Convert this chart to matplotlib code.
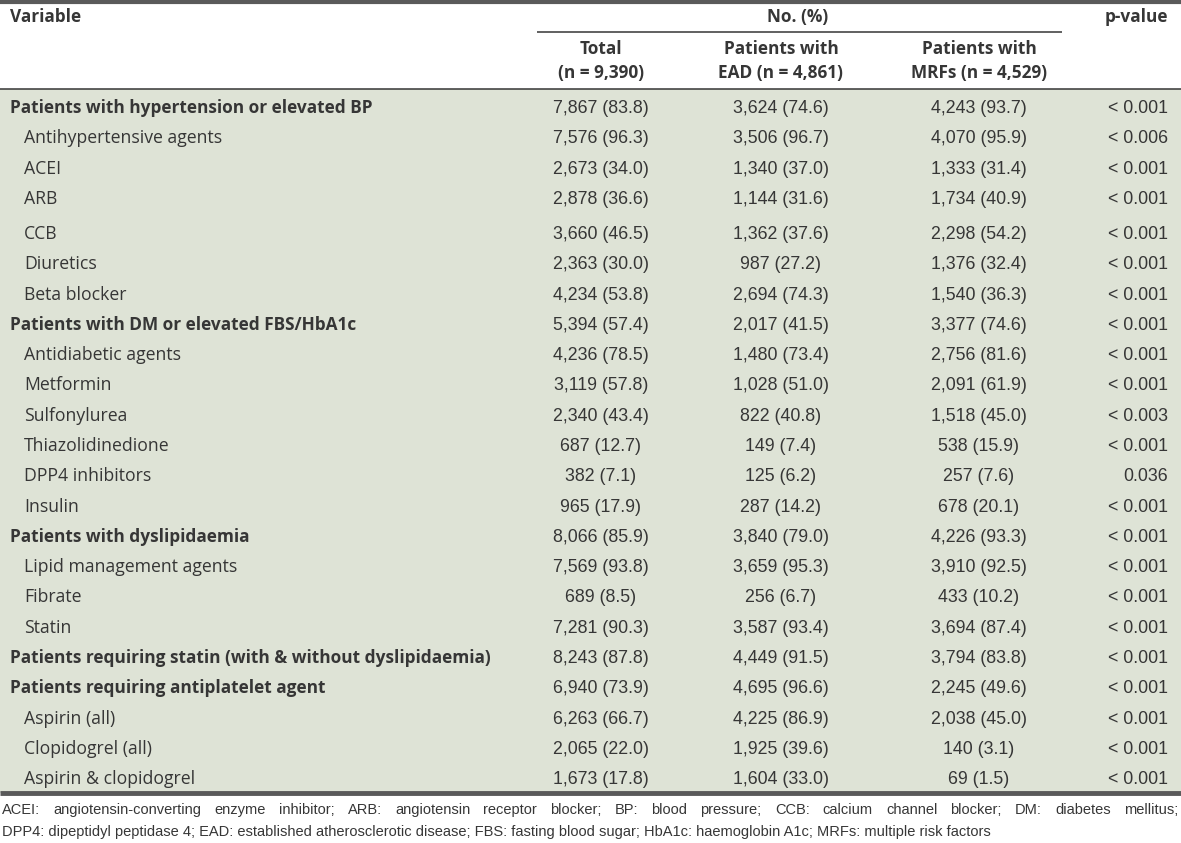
import matplotlib.pyplot as plt
from matplotlib.patches import Rectangle

# ---- table data ----
variables = [
    "Patients with hypertension or elevated BP", "Antihypertensive agents", "ACEI", "ARB",
    "CCB", "Diuretics", "Beta blocker",
    "Patients with DM or elevated FBS/HbA1c", "Antidiabetic agents", "Metformin",
    "Sulfonylurea", "Thiazolidinedione", "DPP4 inhibitors", "Insulin",
    "Patients with dyslipidaemia", "Lipid management agents", "Fibrate", "Statin",
    "Patients requiring statin (with & without dyslipidaemia)",
    "Patients requiring antiplatelet agent", "Aspirin (all)", "Clopidogrel (all)",
    "Aspirin & clopidogrel",
]
is_group = [1, 0, 0, 0, 0, 0, 0, 1, 0, 0, 0, 0, 0, 0, 1, 0, 0, 0, 1, 1, 0, 0, 0]
total = ["7,867 (83.8)", "7,576 (96.3)", "2,673 (34.0)", "2,878 (36.6)", "3,660 (46.5)",
         "2,363 (30.0)", "4,234 (53.8)", "5,394 (57.4)", "4,236 (78.5)", "3,119 (57.8)",
         "2,340 (43.4)", "687 (12.7)", "382 (7.1)", "965 (17.9)", "8,066 (85.9)",
         "7,569 (93.8)", "689 (8.5)", "7,281 (90.3)", "8,243 (87.8)", "6,940 (73.9)",
         "6,263 (66.7)", "2,065 (22.0)", "1,673 (17.8)"]
ead = ["3,624 (74.6)", "3,506 (96.7)", "1,340 (37.0)", "1,144 (31.6)", "1,362 (37.6)",
       "987 (27.2)", "2,694 (74.3)", "2,017 (41.5)", "1,480 (73.4)", "1,028 (51.0)",
       "822 (40.8)", "149 (7.4)", "125 (6.2)", "287 (14.2)", "3,840 (79.0)",
       "3,659 (95.3)", "256 (6.7)", "3,587 (93.4)", "4,449 (91.5)", "4,695 (96.6)",
       "4,225 (86.9)", "1,925 (39.6)", "1,604 (33.0)"]
mrf = ["4,243 (93.7)", "4,070 (95.9)", "1,333 (31.4)", "1,734 (40.9)", "2,298 (54.2)",
       "1,376 (32.4)", "1,540 (36.3)", "3,377 (74.6)", "2,756 (81.6)", "2,091 (61.9)",
       "1,518 (45.0)", "538 (15.9)", "257 (7.6)", "678 (20.1)", "4,226 (93.3)",
       "3,910 (92.5)", "433 (10.2)", "3,694 (87.4)", "3,794 (83.8)", "2,245 (49.6)",
       "2,038 (45.0)", "140 (3.1)", "69 (1.5)"]
pvals = ["< 0.001", "< 0.006", "< 0.001", "< 0.001", "< 0.001", "< 0.001", "< 0.001",
         "< 0.001", "< 0.001", "< 0.001", "< 0.003", "< 0.001", "0.036", "< 0.001",
         "< 0.001", "< 0.001", "< 0.001", "< 0.001", "< 0.001", "< 0.001", "< 0.001",
         "< 0.001", "< 0.001"]
col_headers = [("Total", "(n = 9,390)"), ("Patients with", "EAD (n = 4,861)"),
               ("Patients with", "MRFs (n = 4,529)")]
footnote = ["ACEI: angiotensin-converting enzyme inhibitor; ARB: angiotensin receptor blocker; "
            "BP: blood pressure; CCB: calcium channel blocker; DM: diabetes mellitus;",
            "DPP4: dipeptidyl peptidase 4; EAD: established atherosclerotic disease; "
            "FBS: fasting blood sugar; HbA1c: haemoglobin A1c; MRFs: multiple risk factors"]

# ---- styling ----
W, H = 1181, 843
TXT = "#363636"
RULE = "#5a5a5a"
BG = "#dee3d6"
LABEL_FONT = ["Open Sans", "DejaVu Sans"]
NUM_FONT = ["Liberation Sans", "DejaVu Sans"]
FS = 12.7
BOLD_FS = 12.4
NUM_FS = 12.8

fig = plt.figure(figsize=(W / 100, H / 100), dpi=100)
ax = fig.add_axes([0, 0, 1, 1])
ax.set_xlim(0, W)
ax.set_ylim(H, 0)
ax.axis("off")

# shaded body
ax.add_patch(Rectangle((0, 89), W, 704, facecolor=BG, edgecolor="none"))
ax.hlines(1.5, 0, W, color=RULE, lw=3)
ax.hlines(32, 537, 1062, color=TXT, lw=1.1)
ax.hlines(89, 0, W, color=TXT, lw=1.1)
ax.hlines(793, 0, W, color=RULE, lw=3.5)

# header
hd = dict(color=TXT, fontsize=BOLD_FS, fontweight="bold", family=LABEL_FONT, va="center")
ax.text(10, 17, "Variable", ha="left", **hd)
ax.text(798, 17, "No. (%)", ha="center", **hd)
ax.text(1168, 17, "p-value", ha="right", **hd)
col_x = [601, 781, 979]
for cx, (l1, l2) in zip(col_x, col_headers):
    ax.text(cx, 49, l1, ha="center", **hd)
    ax.text(cx, 73, l2, ha="center", **hd)

# body rows
step = 30.3
y = 106.7
for i, name in enumerate(variables):
    if i == 4:
        y += 4.7
    base = y + 6.3
    if is_group[i]:
        ax.text(10, base, name, ha="left", va="baseline", color=TXT, fontsize=BOLD_FS,
                fontweight="bold", family=LABEL_FONT)
    else:
        ax.text(24, base, name, ha="left", va="baseline", color=TXT, fontsize=FS,
                family=LABEL_FONT)
    for cx, vals in zip(col_x, [total, ead, mrf]):
        ax.text(cx, base, vals[i], ha="center", va="baseline", color=TXT,
                fontsize=NUM_FS, family=NUM_FONT)
    ax.text(1168, base, pvals[i], ha="right", va="baseline", color=TXT,
            fontsize=NUM_FS, family=NUM_FONT)
    y += step

# footnote: first line justified across the width
renderer = fig.canvas.get_renderer()
fn = dict(color=TXT, fontsize=10.5, family=NUM_FONT, va="center", ha="left")
words = footnote[0].split(" ")
items = [ax.text(0, 810, w, **fn) for w in words]
widths = [t.get_window_extent(renderer).width for t in items]
left, right = 2, 1178
gap = (right - left - sum(widths)) / (len(words) - 1)
x = left
for t, w in zip(items, widths):
    t.set_x(x)
    x += w + gap
ax.text(2, 832, footnote[1], **fn)

fig.savefig("out.png", dpi=100)
